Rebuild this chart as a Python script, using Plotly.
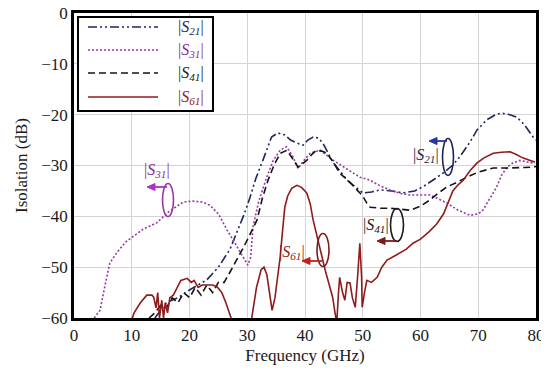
import plotly.graph_objects as go

# ---------------- data ----------------
s21_f = [14, 15, 16, 18, 20, 23, 25, 27, 28.2, 29.5, 30.5, 31.5, 32.7, 34.2, 35.3, 36.5, 37.5, 38.6,
         39.7, 40.5, 41.4, 42.3, 43.1, 44, 44.9, 46, 47.3, 48.5, 50, 51.5, 53, 55, 57, 59, 60.4, 62,
         63.9, 65.5, 66.8, 68.5, 69.8, 71.5, 73, 74, 75.5, 76.7, 78, 79.5, 80]
s21_db = [-60, -58.5, -57, -56, -54.5, -52.5, -50, -46.5, -43.3, -39.5, -36.2, -32.5, -29, -24.4, -23.6,
          -24, -25, -25.6, -26, -25, -24.4, -24.6, -25.6, -27.5, -29.5, -31, -32.9, -34, -35.4, -35.2,
          -34.8, -35, -35.4, -35, -34.2, -33, -31.5, -30, -28.3, -25.5, -23, -21, -20, -19.7, -20,
          -20.5, -22, -24.4, -25]

s31_f = [3.5, 4.5, 5.3, 6.2, 7.5, 9, 10.2, 12, 14.3, 16.5, 18.9, 20.5, 22.3, 23.5, 25, 26.5, 28, 29.2,
         30.1, 30.6, 31, 32, 33.4, 34.5, 35.7, 36.8, 37.8, 38.8, 39.8, 40.9, 42.6, 43.8, 44.9, 46.3,
         47.8, 49.5, 51.3, 53, 54.7, 56.5, 58.2, 60, 61.6, 63, 64.6, 66.5, 68.6, 70, 70.8, 72, 73.2,
         74, 75, 76, 77.2, 78.5, 79.8]
s31_db = [-60, -58.5, -54, -49.2, -47, -45, -44, -42.5, -41.3, -39, -37.2, -37, -37.2, -37.8, -39.5,
          -42.7, -45.5, -48, -49.6, -48, -42, -37, -32.2, -29, -27, -26.3, -28, -30.6, -29, -27.6,
          -27, -28, -29, -30, -31, -32.3, -32.9, -34, -34.8, -35.5, -35.8, -35.8, -35.8, -36.5,
          -37.4, -38.8, -39.8, -39.5, -38.8, -36.5, -34.2, -32, -30.3, -29.5, -29, -29.3, -29.6]

s41_f = [13, 14, 15, 16, 17, 18, 19, 20, 21, 22, 23, 24, 25, 26, 27, 28, 29.4, 30.5, 31.7, 32.6, 33.6,
         34.6, 35.7, 36.9, 37.8, 38.8, 40.3, 41.2, 42, 43, 43.8, 45, 46, 47.5, 49, 50, 50.7, 51.3,
         53, 54.7, 56.5, 58.2, 60, 61.6, 63, 64.6, 66.5, 68, 70, 72.6, 74.5, 76.7, 78, 79.5, 80]
s41_db = [-60, -59, -57.5, -58, -56, -57, -55, -56, -54, -55.5, -53.5, -55, -53, -53, -51, -49, -46,
          -43.5, -40.7, -36.5, -32.9, -30, -27.6, -27, -28.5, -30.3, -29, -27.8, -27, -27.2, -27.6,
          -29.5, -31.5, -33, -34.8, -36, -37.4, -38.2, -38.4, -38.4, -38.6, -38.8, -38, -36.8,
          -35.5, -34.2, -33.2, -32.3, -31.3, -30.5, -30.5, -30.5, -30.4, -30.3, -30.2]

s61_f = [9.5, 10.4, 11.5, 12.6, 13.5, 13.8, 14.2, 14.5, 14.8, 15.2, 15.5, 15.8, 16.2, 16.6, 17.2, 17.8,
         18.5, 19.6, 20.3, 20.8, 21.5, 22.2, 23, 24, 24.8, 25.6, 26.3, 27.2, 27.8, 30.5, 30.8, 31.6,
         32.4, 32.9, 33.4, 33.9, 34.3, 34.8, 35.3, 35.7, 36.1, 36.5, 37, 37.7, 38.6, 39.4, 40.3, 40.9,
         41.4, 42, 42.6, 43.5, 44.3, 44.8, 45.2, 45.5, 45.8, 46, 46.5, 46.9, 47.3, 47.8, 48.2, 48.7,
         49.1, 49.5, 49.8, 49.9, 50.3, 50.7, 51.5, 52.5, 53.3, 54.2, 55.5, 56.5, 57.5, 58.7, 60, 61.5,
         62.8, 64, 65, 65.6, 66.5, 67.4, 68.6, 69.8, 71, 72.6, 74, 75.5, 76.5, 77.7, 79, 79.8]
s61_db = [-62, -59, -57, -55.5, -55.5, -55.9, -58, -55, -60, -56.5, -60, -57, -59, -56, -55.5, -54,
          -52.6, -52.2, -53, -52.6, -54, -53.5, -53.5, -53.5, -53.9, -55, -57, -60, -62, -62, -60,
          -54, -50.5, -50, -51.5, -55, -58.5, -56, -51.5, -48, -43, -38.2, -36, -34.5, -33.9, -34.3,
          -35.4, -37.5, -40.7, -43.5, -46.7, -50.6, -53.9, -56, -59, -61, -55, -52, -55, -56.5, -53,
          -53.1, -56, -57.9, -52, -45.3, -52, -57.9, -55, -52.6, -53, -52, -50, -48.6, -47.8, -47.2,
          -46.5, -45.3, -44.5, -43, -41.5, -39.5, -36.5, -35, -33.8, -32.9, -31, -29.5, -28.5, -27.6,
          -27.4, -27.3, -27.8, -28.5, -29, -29.3]

x_ticks = [0, 10, 20, 30, 40, 50, 60, 70, 80]
y_ticks = [0, -10, -20, -30, -40, -50, -60]

names = ["|<i>S<sub>21</sub></i>|", "|<i>S<sub>31</sub></i>|",
         "|<i>S<sub>41</sub></i>|", "|<i>S<sub>61</sub></i>|"]
colors = ["#1e2560", "#9a35a8", "#141414", "#8e1c1c"]
label_colors = ["#26264a", "#8a2a90", "#1a1a1a", "#8e1c1c"]
dashes = ["9px,3px,2px,3px,2px,3px", "2px,2px", "7px,4px", "solid"]

# ---------------- figure ----------------
# page body has an 8px margin; figure sized so page == window
OFF = 8
W, H = 549 - 2 * OFF, 374 - 2 * OFF
# plot area in screenshot pixels
L, R, T, B = 74, 536, 13, 318


def px_x(p):
    return (p - L) / (R - L) * 80


def px_y(p):
    return -(p - T) / (B - T) * 60


FONT = "Liberation Serif, Times New Roman, serif"

fig = go.Figure()
series = [(s21_f, s21_db), (s31_f, s31_db), (s41_f, s41_db), (s61_f, s61_db)]
for (xs, ys), nm, c, d in zip(series, names, colors, dashes):
    fig.add_trace(go.Scatter(x=xs, y=ys, mode="lines", name=nm,
                             line=dict(color=c, width=1.6, dash=d), showlegend=False))

shapes = []
annotations = []

# manual legend box
shapes.append(dict(type="rect", xref="x", yref="y", x0=px_x(78), x1=px_x(213), y0=px_y(17), y1=px_y(111),
                   line=dict(color="black", width=2), fillcolor="white", layer="above"))
rows = [27, 50, 73, 97]
for r, nm, c, d, lc in zip(rows, names, colors, dashes, label_colors):
    shapes.append(dict(type="line", xref="x", yref="y", x0=px_x(88), x1=px_x(158), y0=px_y(r), y1=px_y(r),
                       line=dict(color=c, width=1.6, dash=d), layer="above"))
    annotations.append(dict(x=px_x(191), y=px_y(r), xref="x", yref="y", text=nm, showarrow=False,
                            font=dict(family=FONT, size=16, color=lc)))

# callouts: label x,y ; ellipse cx,cy,w,h ; arrow from x, to x, y ; colours
callouts = [
    (426, 155, 448, 157, 11, 37, 447, 429, 141, "#1e2560", "#26264a", "#2438a0", names[0]),
    (157, 170, 168, 200, 11, 33, 167, 147, 187, "#9a35a8", "#8a2a90", "#b030c0", names[1]),
    (376, 225, 397, 225, 13, 33, 397, 377, 241, "#1a1a1a", "#1a1a1a", "#7a1a1a", names[2]),
    (292, 252, 323, 250, 12, 33, 322, 302, 261, "#7a1c1c", "#8e1c1c", "#c02020", names[3]),
]
for lx, ly, cx, cy, w, h, ax0, ax1, ay, ec, lc, ac, nm in callouts:
    shapes.append(dict(type="circle", xref="x", yref="y", x0=px_x(cx - w / 2), x1=px_x(cx + w / 2),
                       y0=px_y(cy - h / 2), y1=px_y(cy + h / 2), line=dict(color=ec, width=1.6)))
    annotations.append(dict(x=px_x(lx), y=px_y(ly), xref="x", yref="y", text=nm, showarrow=False,
                            font=dict(family=FONT, size=16, color=lc)))
    # arrow shaft + head
    shapes.append(dict(type="line", xref="x", yref="y", x0=px_x(ax0), x1=px_x(ax1 + 5),
                       y0=px_y(ay), y1=px_y(ay), line=dict(color=ac, width=1.8)))
    head = "M {:.4f} {:.4f} L {:.4f} {:.4f} L {:.4f} {:.4f} Z".format(
        px_x(ax1), px_y(ay), px_x(ax1 + 8), px_y(ay - 3.5), px_x(ax1 + 8), px_y(ay + 3.5))
    shapes.append(dict(type="path", xref="x", yref="y", path=head, fillcolor=ac,
                       line=dict(color=ac, width=1)))

fig.update_layout(
    width=W, height=H,
    margin=dict(l=L - OFF, r=W - (R - OFF), t=T - OFF, b=H - (B - OFF), autoexpand=False),
    paper_bgcolor="white", plot_bgcolor="white",
    font=dict(family=FONT, size=17, color="#1a1a1a"),
    shapes=shapes, annotations=annotations,
    xaxis=dict(range=[0, 80], tickvals=x_ticks, ticks="", showgrid=True, gridcolor="#d4d4d4",
               gridwidth=1, zeroline=False, showline=True, linecolor="black", linewidth=2.5,
               mirror=True, title=dict(text="Frequency (GHz)", standoff=5, font=dict(size=17)),
               tickfont=dict(size=17), automargin=False, ticklabeloverflow="allow"),
    yaxis=dict(range=[-60, 0], tickvals=y_ticks, ticks="", showgrid=True, gridcolor="#d4d4d4",
               gridwidth=1, zeroline=False, showline=True, linecolor="black", linewidth=2.5,
               mirror=True, title=dict(text="Isolation (dB)", standoff=10, font=dict(size=17)),
               tickfont=dict(size=17), automargin=False, ticklabeloverflow="allow"),
)

fig.write_html("out.html")
